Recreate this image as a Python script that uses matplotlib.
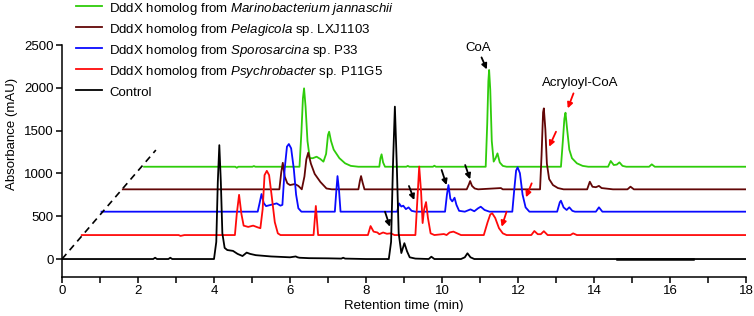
import matplotlib
matplotlib.use("Agg")
import matplotlib.pyplot as plt
import numpy as np

plt.rcParams['font.family'] = ['Liberation Sans', 'DejaVu Sans']
plt.rcParams['mathtext.fontset'] = 'custom'
plt.rcParams['mathtext.rm'] = 'Liberation Sans'
plt.rcParams['mathtext.it'] = 'Liberation Sans:italic'

# ---------------- data (raw retention time in min, absorbance in mAU) ----------------
control_t = [0, 2.40, 2.45, 2.50, 2.80, 2.85, 2.90, 4.00, 4.06, 4.10, 4.14, 4.18, 4.22, 4.28,
             4.35, 4.50, 4.62, 4.75, 4.86, 4.95, 5.10, 5.50, 6.00, 6.15, 6.20, 6.25, 6.50,
             7.00, 7.35, 7.40, 7.45, 8.00, 8.60, 8.66, 8.71, 8.76, 8.81, 8.86, 8.93, 9.01,
             9.08, 9.15, 9.30, 9.65, 9.72, 9.80, 10.50, 10.60, 10.67, 10.75, 10.85, 18.0]
control_y = [0, 0, 15, 0, 0, 15, 0, 0, 200, 900, 1330, 900, 300, 130,
             105, 95, 60, 35, 75, 60, 45, 30, 20, 30, 20, 15, 10,
             8, 5, 15, 5, 0, 0, 200, 1100, 1780, 1100, 300, 70, 185,
             90, 20, 5, 0, 27, 0, 0, 20, 67, 20, 0, 0]
control_tail_t = [14.6, 16.6]
control_tail_y = [-4, -4]

psychro_t = [0.0, 2.55, 2.60, 2.70, 4.03, 4.08, 4.14, 4.20, 4.26, 4.38, 4.51, 4.63, 4.70, 4.76,
             4.81, 4.87, 4.93, 5.00, 5.08, 5.16, 5.23, 6.10, 6.16, 6.22, 7.53, 7.60, 7.68,
             7.78, 7.83, 7.93, 8.03, 8.13, 8.23, 8.78, 8.83, 8.88, 8.93, 8.97, 9.01, 9.06,
             9.11, 9.18, 9.28, 9.53, 9.60, 9.68, 9.78, 9.88, 9.98, 10.58, 10.68, 10.75,
             10.80, 10.88, 10.98, 11.08, 11.18, 11.83, 11.91, 12.00, 12.08, 12.16, 12.26,
             12.86, 12.93, 13.03, 17.5]
psychro_y = [0, 0, -10, 0, 0, 250, 470, 250, 110, 95, 110, 90, 80, 300,
             700, 750, 700, 450, 150, 20, 0, 0, 340, 0, 0, 105, 40,
             30, 10, 30, 15, 20, 0, 0, 400, 800, 500, 140, 300, 385,
             200, 20, 0, 12, 0, 30, 40, 20, 0, 0, 150, 240,
             255, 200, 80, 20, 0, 0, 47, 10, 10, 45, 0,
             0, 20, 0, 0]

sporo_t = [0.0, 4.11, 4.16, 4.21, 4.27, 4.33, 4.46, 4.61, 4.71, 4.76, 4.82, 4.88, 4.93, 4.99,
           5.06, 5.12, 5.18, 5.26, 6.14, 6.18, 6.21, 6.25, 6.29, 7.78, 7.83, 7.89, 7.94,
           8.01, 8.08, 8.16, 8.26, 9.04, 9.09, 9.13, 9.18, 9.23, 9.29, 9.34, 9.41, 9.56,
           9.71, 9.81, 9.91, 9.98, 10.08, 10.21, 10.81, 10.86, 10.91, 10.95, 11.01, 11.08,
           11.16, 11.26, 11.99, 12.06, 12.09, 12.16, 12.24, 12.31, 12.39, 12.46, 13.01,
           13.09, 13.18, 17.0]
sporo_y = [0, 0, 100, 206, 100, 65, 80, 97, 70, 80, 500, 760, 790, 740,
           500, 200, 40, 0, 0, 250, 416, 250, 0, 0, 97, 60, 70,
           30, 50, 10, 0, 0, 200, 311, 150, 120, 163, 80, 10, 0,
           27, 5, 40, 58, 20, 0, 0, 250, 480, 518, 450, 200,
           50, 0, 0, 110, 128, 50, 20, 51, 10, 0, 0,
           51, 0, 0]

pelagi_t = [0.0, 4.12, 4.17, 4.21, 4.26, 4.33, 4.40, 4.53, 4.62, 4.71, 4.78, 4.83, 4.88, 4.95,
            5.05, 5.20, 5.36, 5.50, 6.20, 6.24, 6.27, 6.31, 6.36, 9.05, 9.11, 9.14, 9.19,
            9.26, 9.35, 9.95, 10.00, 10.98, 11.02, 11.06, 11.08, 11.12, 11.16, 11.22,
            11.32, 11.45, 11.60, 12.22, 12.29, 12.36, 12.45, 12.53, 12.60, 12.70, 12.90,
            13.28, 13.36, 13.45, 16.4]
pelagi_y = [0, 0, 200, 310, 150, 70, 50, 62, 40, 0, 150, 350, 428, 300,
            180, 86, 10, 0, 0, 100, 155, 80, 0, 0, 60, 97, 40,
            10, 0, 15, 0, 0, 400, 900, 946, 700, 300, 120,
            50, 15, 0, 0, 89, 30, 25, 40, 15, 10, 0,
            0, 31, 0, 0]

marino_t = [0.0, 2.40, 2.44, 2.48, 2.85, 2.89, 2.93, 4.09, 4.14, 4.18, 4.21, 4.25, 4.30, 4.36,
            4.44, 4.54, 4.64, 4.72, 4.79, 4.84, 4.87, 4.92, 4.99, 5.14, 5.29, 5.44, 5.64,
            6.19, 6.22, 6.25, 6.29, 6.34, 6.90, 6.94, 6.98, 7.60, 7.64, 7.68, 8.99, 9.03,
            9.06, 9.08, 9.11, 9.15, 9.20, 9.25, 9.30, 9.36, 9.44, 9.54, 10.97, 11.02,
            11.06, 11.09, 11.13, 11.19, 11.26, 11.39, 11.54, 11.69, 12.21, 12.28, 12.36,
            12.44, 12.51, 12.59, 12.69, 13.29, 13.36, 13.44, 15.84]
marino_y = [0, 0, -12, 0, 0, 8, 0, 0, 400, 800, 916, 700, 300, 100,
            100, 117, 90, 59, 150, 370, 409, 300, 200, 100, 40, 10, 0,
            0, 100, 145, 50, 0, 0, 10, 0, 0, 12, 0, 0, 500,
            1000, 1130, 900, 300, 60, 100, 156, 50, 10, 0, 0, 300,
            560, 631, 450, 200, 100, 40, 10, 0, 0, 67, 20,
            25, 51, 10, 0, 0, 28, 0, 0]

labels = [
    r"DddX homolog from $\mathit{Marinobacterium\ jannaschii}$",
    r"DddX homolog from $\mathit{Pelagicola}$ sp. LXJ1103",
    r"DddX homolog from $\mathit{Sporosarcina}$ sp. P33",
    r"DddX homolog from $\mathit{Psychrobacter}$ sp. P11G5",
    "Control",
]
series_t = [marino_t, pelagi_t, sporo_t, psychro_t, control_t]
series_y = [marino_y, pelagi_y, sporo_y, psychro_y, control_y]

# ---------------- style / layout ----------------
colors = ['#2ecc0a', '#620606', '#0a0aff', '#ff0a0a', '#000000']
x_shift = [2.16, 1.60, 1.04, 0.52, 0.0]
y_shift = [1078, 814, 553, 280, 0]
depth_line_end = (2.47, 1273)
FS = 9.5

annot_texts = [("CoA", 10.95, 2468), ("Acryloyl-CoA", 13.63, 2056)]
# (head x, head y, tail x, tail y, color)
arrows = [
    (11.18, 2215, 11.04, 2355, 'black'),
    (13.31, 1760, 13.46, 1935, 'red'),
    (12.82, 1312, 13.00, 1487, 'red'),
    (12.21, 721, 12.36, 884, 'red'),
    (11.57, 377, 11.70, 553, 'red'),
    (8.63, 377, 8.50, 553, 'black'),
    (9.27, 689, 9.13, 853, 'black'),
    (10.12, 864, 9.99, 1040, 'black'),
    (10.74, 931, 10.61, 1098, 'black'),
]

W, H = 754, 316
fig = plt.figure(figsize=(W / 100, H / 100), dpi=100)
ax = fig.add_axes([62 / W, 1 - 277 / H, (746 - 62) / W, (277 - 45) / H])

handles = []
for t, y, c, dx, dy in zip(series_t, series_y, colors, x_shift, y_shift):
    ln, = ax.plot(np.asarray(t) + dx, np.asarray(y) + dy, color=c, lw=1.3,
                  solid_joinstyle='round')
    handles.append(ln)
ax.plot(control_tail_t, control_tail_y, color='black', lw=1.8)

ax.plot([0, depth_line_end[0]], [0, depth_line_end[1]], color='black', lw=1.2,
        ls=(0, (4, 3)))

for txt, x, y in annot_texts:
    ax.text(x, y, txt, ha='center', va='center', fontsize=FS)
for hx, hy, tx, ty, c in arrows:
    ax.annotate("", xy=(hx, hy), xytext=(tx, ty),
                arrowprops=dict(arrowstyle='-|>', color=c, lw=1.3,
                                mutation_scale=8, shrinkA=0, shrinkB=0))

ax.set_xlim(0, 18)
ax.set_ylim(-210, 2500)
ax.set_xticks(range(0, 19, 2))
ax.set_xticks(range(1, 18, 2), minor=True)
ax.set_yticks(range(0, 2501, 500))
ax.tick_params(axis='both', direction='out', length=4, width=1.1, labelsize=FS, pad=2)
ax.tick_params(axis='x', which='minor', direction='out', length=4, width=1.1)
for s in ['top', 'right']:
    ax.spines[s].set_visible(False)
for s in ['left', 'bottom']:
    ax.spines[s].set_linewidth(1.1)

ax.set_xlabel("Retention time (min)", fontsize=FS, labelpad=2)
fig.text(12 / W, 1 - 134 / H, "Absorbance (mAU)", rotation=90, ha='center',
         va='center', fontsize=FS)

ax.legend(handles, labels, loc='upper left', bbox_to_anchor=(76 / W, 1.0),
          bbox_transform=fig.transFigure, frameon=False, borderpad=0,
          borderaxespad=0, handlelength=2.0, handletextpad=0.5,
          handleheight=1.45, labelspacing=0.28, fontsize=FS)

fig.savefig("out.png", dpi=100)
